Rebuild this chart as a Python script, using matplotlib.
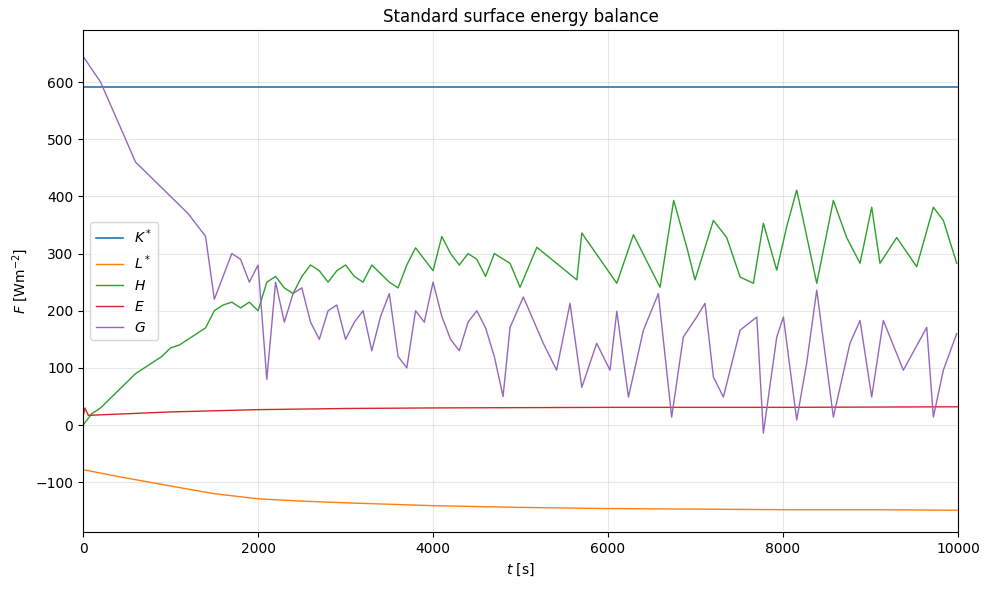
import matplotlib
matplotlib.use("Agg")
import matplotlib.pyplot as plt
import numpy as np

K_t = [0, 10000]
K_v = [591, 591]
L_t = [0, 400, 800, 1200, 1500, 2000, 2500, 3000, 4000, 5000, 6000, 7000, 8000, 9000, 10000]
L_v = [-78, -90, -101, -112, -120, -129, -133, -136, -141, -144, -146, -147, -148, -148, -149]
E_t = [0, 20, 60, 1000, 2000, 3000, 4000, 6000, 8000, 10000]
E_v = [15, 30, 17, 23, 27, 29, 30, 31, 31, 32]
H_t = [0, 100, 200, 300, 400, 500, 600, 700, 800, 900, 1000, 1100, 1200, 1300, 1400, 1500, 1600, 1700,
       1800, 1900, 2000, 2100, 2200, 2300, 2400, 2500, 2600, 2700, 2800, 2900, 3000, 3100, 3200, 3300,
       3400, 3500, 3600, 3700, 3800, 3900, 4000, 4100, 4200, 4300, 4400, 4500, 4600, 4700, 4880, 4994,
       5186, 5643, 5700, 6100, 6290, 6594, 6750, 6900, 6994, 7204, 7356, 7509, 7661, 7775, 7928, 8042,
       8156, 8232, 8385, 8575, 8727, 8880, 9013, 9108, 9299, 9527, 9718, 9832, 9985]
H_v = [0, 20, 30, 45, 60, 75, 90, 100, 110, 120, 135, 140, 150, 160, 170, 200, 210, 215,
       205, 215, 200, 250, 260, 240, 230, 260, 280, 270, 250, 270, 280, 260, 250, 280,
       265, 250, 240, 280, 310, 290, 270, 330, 300, 280, 300, 290, 260, 300, 283, 241,
       311, 254, 336, 248, 333, 241, 393, 311, 254, 358, 328, 259, 248, 353, 271, 347,
       411, 358, 248, 393, 328, 283, 381, 283, 328, 277, 381, 358, 283]
G_t = [0, 200, 400, 600, 800, 1000, 1200, 1400, 1500, 1600, 1700, 1800, 1900, 2000, 2100, 2200, 2300,
       2400, 2500, 2600, 2700, 2800, 2900, 3000, 3100, 3200, 3300, 3400, 3500, 3600, 3700, 3800, 3900,
       4000, 4100, 4200, 4300, 4400, 4500, 4600, 4700, 4800, 4880, 5032, 5260, 5412, 5565, 5700, 5870,
       6022, 6100, 6233, 6404, 6575, 6727, 6860, 7013, 7108, 7204, 7318, 7509, 7700, 7775, 7928, 8004,
       8156, 8270, 8385, 8575, 8765, 8880, 9013, 9146, 9375, 9642, 9718, 9832, 9985]
G_v = [645, 600, 530, 460, 430, 400, 370, 330, 220, 260, 300, 290, 250, 280, 80, 250, 180,
       230, 240, 180, 150, 200, 210, 150, 180, 200, 130, 190, 230, 120, 100, 200, 180,
       250, 190, 150, 130, 180, 200, 170, 120, 50, 171, 224, 143, 96, 213, 66, 143,
       96, 199, 49, 166, 230, 14, 154, 189, 213, 84, 49, 166, 189, -14, 154, 189,
       9, 108, 236, 14, 143, 183, 49, 183, 96, 171, 14, 96, 160]

fig, ax = plt.subplots(figsize=(9.89, 5.89), dpi=100)
ax.plot(K_t, K_v, color="#1f77b4", lw=1.2, label=r"$K^*$")
ax.plot(L_t, L_v, color="#ff7f0e", lw=1.0, label=r"$L^*$")
ax.plot(H_t, H_v, color="#2ca02c", lw=1.0, label=r"$H$")
ax.plot(E_t, E_v, color="#d62728", lw=1.0, label=r"$E$")
ax.plot(G_t, G_v, color="#9467bd", lw=1.0, label=r"$G$")
ax.set_xlim(0, 10000)
ax.set_ylim(-187, 691)
ax.grid(True, alpha=0.3)
ax.set_xlabel(r"$t$ [s]")
ax.set_ylabel(r"$F$ [Wm$^{-2}$]")
ax.set_title("Standard surface energy balance")
ax.legend(loc="center left")
fig.subplots_adjust(left=0.084, right=0.9687, top=0.949, bottom=0.0968)
fig.savefig("out.png")
